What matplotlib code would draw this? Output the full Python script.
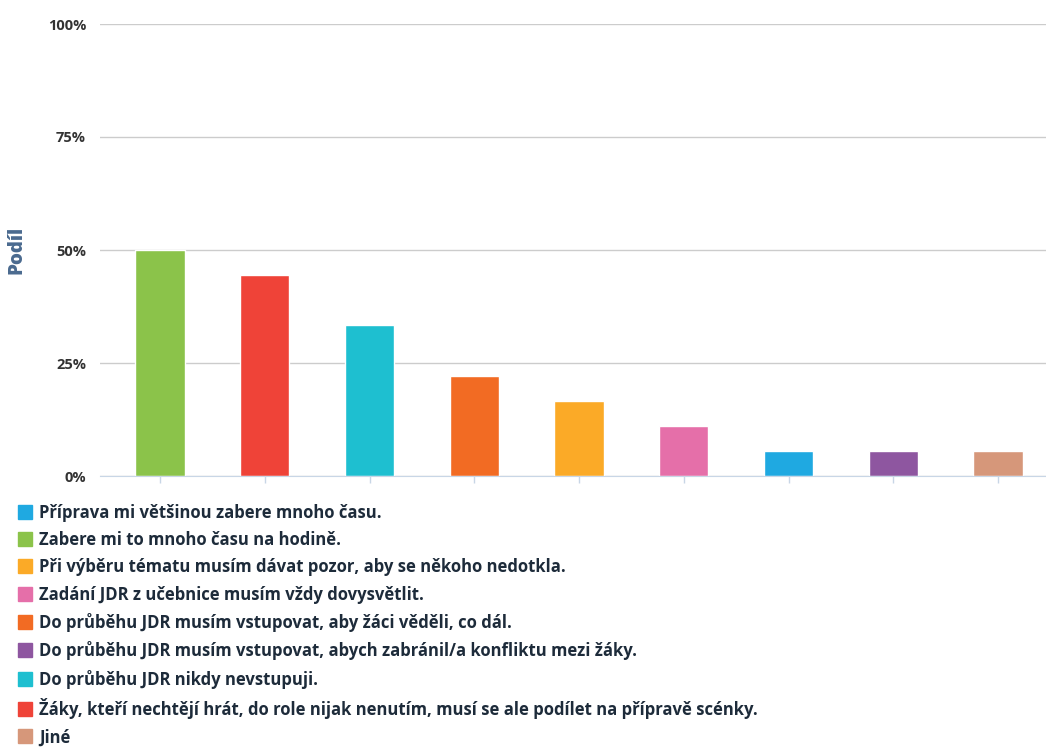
import matplotlib
matplotlib.use('Agg')
import matplotlib.pyplot as plt
from matplotlib.lines import Line2D

plt.rcParams['font.family'] = ['Open Sans', 'DejaVu Sans']

# odpovědi v pořadí legendy
labels = [
    'Příprava mi většinou zabere mnoho času.',
    'Zabere mi to mnoho času na hodině.',
    'Při výběru tématu musím dávat pozor, aby se někoho nedotkla.',
    'Zadání JDR z učebnice musím vždy dovysvětlit.',
    'Do průběhu JDR musím vstupovat, aby žáci věděli, co dál.',
    'Do průběhu JDR musím vstupovat, abych zabránil/a konfliktu mezi žáky.',
    'Do průběhu JDR nikdy nevstupuji.',
    'Žáky, kteří nechtějí hrát, do role nijak nenutím, musí se ale podílet na přípravě scénky.',
    'Jiné',
]
values = [5.56, 50.0, 16.67, 11.11, 22.22, 5.56, 33.33, 44.44, 5.56]
colors = ['#1fa9e1', '#8bc34a', '#fbaa27', '#e56fa9', '#f26b23',
          '#8e56a0', '#1ebfd0', '#ef4338', '#d6977a']
yticks = [0, 25, 50, 75, 100]

# sloupce seřazené sestupně
order = sorted(range(len(values)), key=lambda i: -values[i])

fig = plt.figure(figsize=(10.46, 7.47), dpi=100)
ax = fig.add_axes([100 / 1046, 1 - 476 / 747, 946 / 1046, 452 / 747])

ax.bar(range(len(order)), [values[i] for i in order], width=0.47,
       color=[colors[i] for i in order], edgecolor='white', linewidth=1,
       zorder=2)

ax.set_xlim(-0.573, 8.458)
ax.set_ylim(0, 100)
ax.set_yticks(yticks)
ax.set_yticklabels([f'{t}%' for t in yticks], fontsize=10.5, fontweight='bold',
                   color='#333333')
ax.set_xticks(range(len(order)))
ax.set_xticklabels([])
ax.tick_params(axis='y', length=0, pad=10)
ax.tick_params(axis='x', length=5, color='#c8d6e6', width=1)
ax.yaxis.grid(True, color='#cccccc', linewidth=1, zorder=0)
ax.set_axisbelow(True)
for s in ['top', 'right', 'left']:
    ax.spines[s].set_visible(False)
ax.spines['bottom'].set_color('#c8d6e6')

ax.set_ylabel('Podíl', fontsize=13.5, fontweight='heavy', color='#4a6a8f')
ax.yaxis.set_label_coords(-0.0772, 0.5)

handles = [Line2D([], [], marker='s', ls='', markersize=10, color=c)
           for c in colors]
fig.legend(handles, labels, loc='upper left', bbox_to_anchor=(0.010, 0.337),
           frameon=False, labelspacing=0.56,
           handlelength=0.8, handletextpad=0.4, borderpad=0,
           prop={'weight': 'bold', 'size': 12.0},
           labelcolor='#1d2b3a')

fig.savefig('out.png', dpi=100)
